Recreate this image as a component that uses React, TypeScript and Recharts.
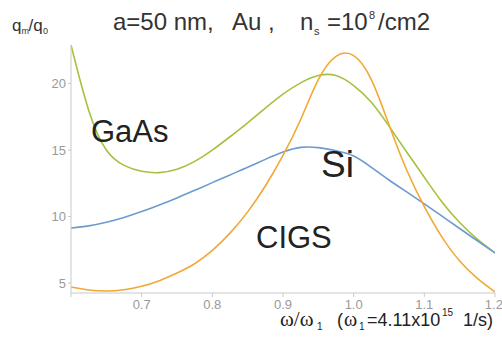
import { Line, LineChart, XAxis, YAxis } from 'recharts';

const omegaRatio = [
  0.6, 0.625, 0.65, 0.675, 0.7, 0.725, 0.75, 0.775, 0.8, 0.825, 0.85, 0.875, 0.9,
  0.925, 0.95, 0.975, 1.0, 1.025, 1.05, 1.075, 1.1, 1.125, 1.15, 1.175, 1.2,
];

const gaAs = [
  22.9, 18.0, 15.0, 13.85, 13.4, 13.3, 13.55, 14.15, 15.0, 16.0, 17.05, 18.15, 19.2,
  20.05, 20.6, 20.6, 19.85, 18.6, 16.8, 14.85, 12.95, 11.1, 9.55, 8.3, 7.26,
];

const si = [
  9.14, 9.3, 9.57, 9.93, 10.37, 10.87, 11.4, 11.97, 12.55, 13.13, 13.7, 14.3, 14.85,
  15.2, 15.18, 14.95, 14.55, 13.7, 12.75, 11.85, 10.95, 10.03, 9.1, 8.18, 7.26,
];

const cigs = [
  4.7, 4.48, 4.4, 4.5, 4.76, 5.18, 5.75, 6.45, 7.45, 8.75, 10.35, 12.3, 14.6,
  17.3, 20.3, 22.05, 22.1, 20.3, 16.9, 13.5, 10.75, 8.45, 6.65, 5.35, 4.33,
];

const xTicks = [0.6, 0.7, 0.8, 0.9, 1.0, 1.1, 1.2];
const yTicks = [5, 10, 15, 20];

const data = omegaRatio.map((x, i) => ({ x, gaAs: gaAs[i], si: si[i], cigs: cigs[i] }));

const sans = '"Liberation Sans", Arial, sans-serif';
const serif = '"Liberation Serif", "Times New Roman", serif';
const axisGray = '#c9c9c9';
const tickStyle = { fill: '#9a9a9a', fontSize: 13, fontFamily: sans };

export default function App() {
  return (
    <div style={{ position: 'absolute', left: 0, top: 0, width: 502, height: 340, background: '#fff' }}>
      <LineChart
        width={502}
        height={340}
        data={data}
        margin={{ top: 45, right: 7, bottom: 17, left: 41 }}
      >
        <XAxis
          type="number"
          dataKey="x"
          domain={[0.6, 1.2]}
          ticks={xTicks}
          allowDataOverflow
          height={30}
          stroke={axisGray}
          tickSize={4}
          tickMargin={3}
          tick={tickStyle}
          tickFormatter={(v: number) => (v < 0.65 ? '' : v.toFixed(1))}
        />
        <YAxis
          type="number"
          domain={[4.25, 22.9]}
          ticks={yTicks}
          allowDataOverflow
          width={30}
          stroke={axisGray}
          tickSize={3}
          tickMargin={2}
          tick={tickStyle}
        />
        <Line
          type="natural"
          dataKey="gaAs"
          stroke="#a4c23e"
          strokeWidth={1.6}
          dot={false}
          isAnimationActive={false}
        />
        <Line
          type="natural"
          dataKey="si"
          stroke="#6c9bd0"
          strokeWidth={1.6}
          dot={false}
          isAnimationActive={false}
        />
        <Line
          type="natural"
          dataKey="cigs"
          stroke="#f2a834"
          strokeWidth={1.6}
          dot={false}
          isAnimationActive={false}
        />
      </LineChart>

      <svg
        width={502}
        height={340}
        style={{ position: 'absolute', left: 0, top: 0, pointerEvents: 'none' }}
      >
        {/* title */}
        <g fontFamily={sans} fill="#333">
          <text x={113} y={30} fontSize={24}>a=50 nm,</text>
          <text x={232} y={30} fontSize={24}>Au</text>
          <text x={268} y={30} fontSize={24}>,</text>
          <text x={300} y={30} fontSize={24}>n</text>
          <text x={314} y={35} fontSize={11}>s</text>
          <text x={327} y={30} fontSize={24}>=10</text>
          <text x={369} y={19} fontSize={11}>8</text>
          <text x={378} y={30} fontSize={24}>/cm2</text>
        </g>

        {/* y label */}
        <g fontFamily={sans} fill="#333">
          <text x={12} y={31} fontSize={17}>q</text>
          <text x={21.5} y={34} fontSize={9}>m</text>
          <text x={28.5} y={31} fontSize={17}>/q</text>
          <text x={43} y={34} fontSize={9}>0</text>
        </g>

        {/* x label */}
        <g fill="#222">
          <text x={280} y={326} fontSize={21} fontFamily={serif}>ω/ω</text>
          <text x={317} y={330} fontSize={10} fontFamily={sans}>1</text>
          <text x={337} y={326} fontSize={18} fontFamily={sans}>(</text>
          <text x={344} y={326} fontSize={20} fontFamily={serif}>ω</text>
          <text x={359} y={330} fontSize={10} fontFamily={sans}>1</text>
          <text x={367} y={326} fontSize={18} fontFamily={sans}>=4.11x10</text>
          <text x={442} y={316} fontSize={10} fontFamily={sans}>15</text>
          <text x={463} y={326} fontSize={18} fontFamily={sans}>1/s)</text>
        </g>

        {/* series labels */}
        <g fontFamily={sans} fill="#222">
          <text x={91} y={142} fontSize={31}>GaAs</text>
          <text x={321} y={177} fontSize={37}>Si</text>
          <text x={256} y={248} fontSize={31}>CIGS</text>
        </g>
      </svg>
    </div>
  );
}
